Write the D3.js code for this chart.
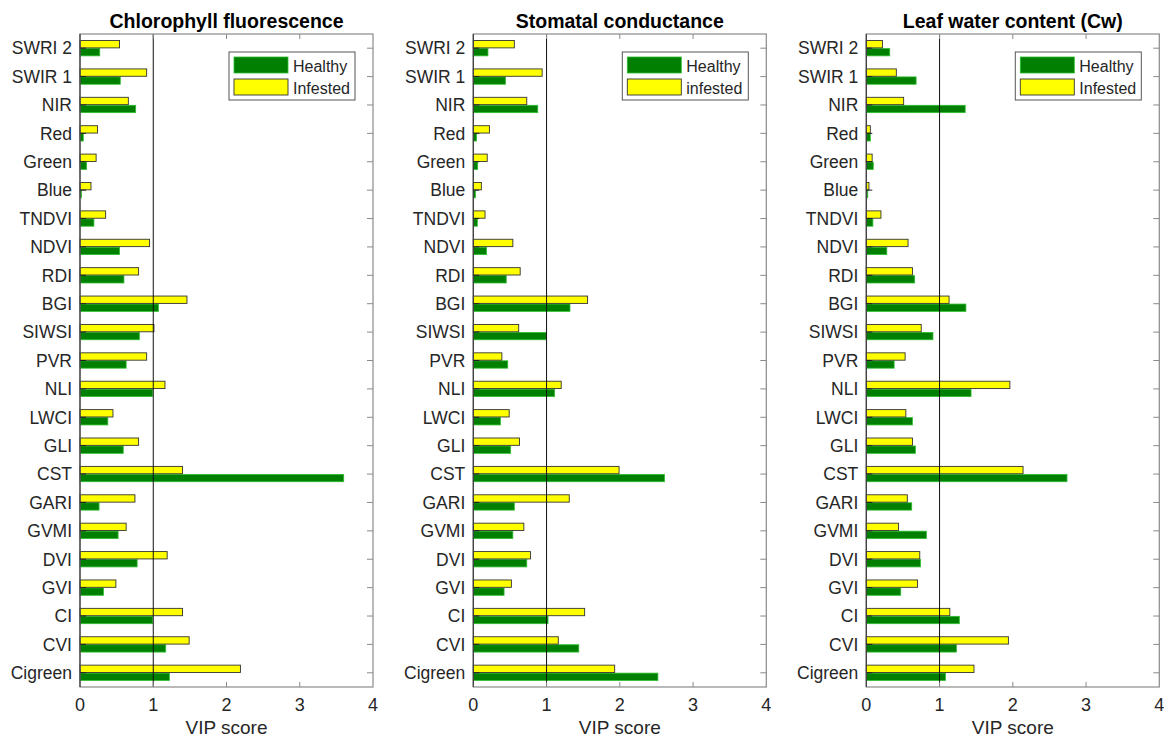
<!DOCTYPE html>
<html><head><meta charset="utf-8">
<script src="https://cdn.jsdelivr.net/npm/d3@7"></script>
<style>body{margin:0;background:#fff}svg{display:block}text{font-family:"Liberation Sans",Arial,sans-serif}</style>
</head><body><svg id="c" width="1164" height="740"></svg>
<script>
const categories = ["SWRI 2","SWIR 1","NIR","Red","Green","Blue","TNDVI","NDVI","RDI","BGI","SIWSI","PVR","NLI","LWCI","GLI","CST","GARI","GVMI","DVI","GVI","CI","CVI","Cigreen"];
const titles = ["Chlorophyll fluorescence","Stomatal conductance","Leaf water content (Cw)"];
const legendLabels = [["Healthy","Infested"],["Healthy","infested"],["Healthy","Infested"]];
const xTicks = [0,1,2,3,4];
const xLabel = "VIP score";
// Chlorophyll fluorescence
const chlHealthy  = [0.27,0.55,0.76,0.045,0.09,0.02,0.19,0.54,0.60,1.07,0.81,0.63,0.99,0.38,0.59,3.60,0.26,0.52,0.78,0.32,0.99,1.17,1.22];
const chlInfested = [0.54,0.91,0.66,0.24,0.22,0.15,0.35,0.95,0.80,1.46,1.01,0.91,1.16,0.45,0.80,1.40,0.75,0.63,1.19,0.49,1.40,1.49,2.19];
// Stomatal conductance
const stoHealthy  = [0.20,0.44,0.88,0.045,0.06,0.03,0.055,0.18,0.45,1.32,1.00,0.47,1.11,0.37,0.51,2.61,0.56,0.54,0.73,0.42,1.02,1.44,2.52];
const stoInfested = [0.56,0.94,0.73,0.22,0.19,0.11,0.16,0.54,0.64,1.56,0.62,0.39,1.20,0.49,0.63,1.99,1.31,0.69,0.78,0.52,1.52,1.16,1.93];
// Leaf water content
const cwHealthy   = [0.32,0.68,1.35,0.055,0.095,0.02,0.09,0.28,0.66,1.36,0.91,0.38,1.43,0.63,0.67,2.74,0.62,0.82,0.74,0.47,1.27,1.23,1.08];
const cwInfested  = [0.22,0.41,0.51,0.055,0.08,0.036,0.20,0.57,0.63,1.13,0.75,0.53,1.96,0.54,0.63,2.14,0.56,0.44,0.73,0.70,1.14,1.94,1.47];

const panels = [
  {healthy: chlHealthy, infested: chlInfested},
  {healthy: stoHealthy, infested: stoInfested},
  {healthy: cwHealthy, infested: cwInfested}
];
const lefts = [80, 473.3, 866.3];
const W = 293, plotTop = 34, plotBottom = 687;
const GREEN = "#007f00", YELLOW = "#ffff00", TXT = "#262626";
const svg = d3.select("#c");

panels.forEach((p, i) => {
  const g = svg.append("g").attr("transform", `translate(${lefts[i]},0)`);
  const x = d3.scaleLinear().domain([0,4]).range([0,W]);
  const y = d3.scaleBand().domain(categories).range([plotTop, plotBottom]).paddingInner(0.46).paddingOuter(0.23);
  const yi = d3.scaleBand().domain(["inf","hea"]).range([0, y.bandwidth()]).paddingInner(0.08);
  const cats = categories.map((c, k) => ({c, h: p.healthy[k], f: p.infested[k]}));

  // bars
  g.selectAll(".bh").data(cats).join("rect")
    .attr("x", x(0)).attr("y", d => y(d.c) + yi("hea"))
    .attr("width", d => x(d.h) - x(0)).attr("height", yi.bandwidth())
    .attr("fill", GREEN).attr("stroke", "#2fbf2f").attr("stroke-width", 0.8);
  g.selectAll(".bf").data(cats).join("rect")
    .attr("x", x(0)).attr("y", d => y(d.c) + yi("inf"))
    .attr("width", d => x(d.f) - x(0)).attr("height", yi.bandwidth())
    .attr("fill", YELLOW).attr("stroke", "#333").attr("stroke-width", 0.9);

  // reference line at 1
  g.append("line").attr("x1", x(1)).attr("x2", x(1)).attr("y1", plotTop).attr("y2", plotBottom)
    .attr("stroke", "#111").attr("stroke-width", 1);

  // box
  g.append("rect").attr("x", 0).attr("y", plotTop).attr("width", W).attr("height", plotBottom - plotTop)
    .attr("fill", "none").attr("stroke", "#8a8a8a").attr("stroke-width", 1.2);
  g.append("line").attr("x1", 0).attr("x2", 0).attr("y1", plotTop).attr("y2", plotBottom)
    .attr("stroke", "#3a3a3a").attr("stroke-width", 1.2);

  // y ticks (inside, left dark, right gray)
  const yc = c => y(c) + y.bandwidth()/2;
  g.selectAll(".tl").data(categories).join("line")
    .attr("x1", 0).attr("x2", 6).attr("y1", yc).attr("y2", yc).attr("stroke", "#222").attr("stroke-width", 1);
  g.selectAll(".tr").data(categories).join("line")
    .attr("x1", W - 6).attr("x2", W).attr("y1", yc).attr("y2", yc).attr("stroke", "#8a8a8a").attr("stroke-width", 1);
  g.selectAll(".yl").data(categories).join("text")
    .attr("x", -8).attr("y", d => yc(d) + 6.3).attr("text-anchor", "end")
    .attr("font-size", 17.5).attr("fill", TXT).text(d => d);

  // x ticks
  g.selectAll(".xb").data(xTicks.slice(1, 4)).join("line")
    .attr("x1", x).attr("x2", x).attr("y1", plotBottom).attr("y2", plotBottom - 5).attr("stroke", "#8a8a8a");
  g.selectAll(".xt").data(xTicks.slice(1, 4)).join("line")
    .attr("x1", x).attr("x2", x).attr("y1", plotTop).attr("y2", plotTop + 5).attr("stroke", "#8a8a8a");
  g.selectAll(".xl").data(xTicks).join("text")
    .attr("x", x).attr("y", 711).attr("text-anchor", "middle")
    .attr("font-size", 18).attr("fill", TXT).text(d => d);
  g.append("text").attr("x", W/2).attr("y", 734).attr("text-anchor", "middle")
    .attr("font-size", 19).attr("fill", TXT).text(xLabel);

  // title
  g.append("text").attr("x", W/2).attr("y", 28).attr("text-anchor", "middle")
    .attr("font-size", 19.5).attr("font-weight", "bold").attr("fill", "#000").text(titles[i]);

  // legend
  const lx = W - 144, ly = 52;
  const lg = g.append("g").attr("transform", `translate(${lx},${ly})`);
  lg.append("rect").attr("width", 126).attr("height", 48).attr("fill", "#fff").attr("stroke", "#555").attr("stroke-width", 1);
  lg.append("rect").attr("x", 5).attr("y", 5).attr("width", 54).attr("height", 16)
    .attr("fill", GREEN).attr("stroke", "#2fbf2f").attr("stroke-width", 0.8);
  lg.append("rect").attr("x", 5).attr("y", 27).attr("width", 54).attr("height", 16)
    .attr("fill", YELLOW).attr("stroke", "#333").attr("stroke-width", 0.9);
  lg.append("text").attr("x", 64).attr("y", 19.5).attr("font-size", 16).attr("fill", TXT).text(legendLabels[i][0]);
  lg.append("text").attr("x", 64).attr("y", 41.5).attr("font-size", 16).attr("fill", TXT).text(legendLabels[i][1]);
});
</script></body></html>
